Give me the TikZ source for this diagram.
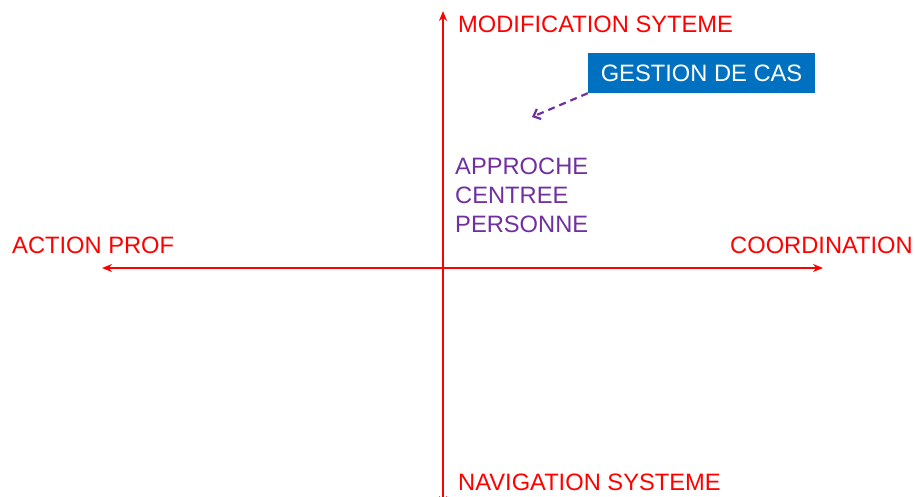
\documentclass[tikz,border=0pt]{standalone}
\usepackage{fontspec}
\setmainfont{Liberation Sans}
\usepackage{tikz}
\usetikzlibrary{arrows.meta,positioning}
\definecolor{axiscolor}{RGB}{255,0,0}
\definecolor{purplecol}{RGB}{112,48,160}
\definecolor{boxblue}{RGB}{0,112,192}
\tikzset{
  axisln/.style={{Stealth[length=10pt,width=8pt]}-{Stealth[length=10pt,width=8pt]}, line width=2pt, axiscolor},
  axislabel/.style={axiscolor, anchor=west, inner sep=0pt, font=\fontsize{23.7}{28}\selectfont},
  casebox/.style={fill=boxblue, text=white, minimum width=227pt, minimum height=40pt,
    inner sep=0pt, font=\fontsize{23.7}{28}\selectfont},
  hintln/.style={-{Straight Barb[length=6pt,width=11pt]}, dash pattern=on 7pt off 5pt,
    line width=2.2pt, purplecol},
}

\begin{document}
\begin{tikzpicture}[x=1pt,y=-1pt]
    \useasboundingbox (0,0) rectangle (915,497);
    % --- axes ---
    \coordinate (top) at (443,11);
    \coordinate (bottom) at (443,506);
    \coordinate (left) at (102,268);
    \coordinate (right) at (823,268);
    \draw[axisln] (bottom) -- (top);
    \draw[axisln] (left) -- (right);
    % --- axis labels ---
    \node[axislabel] (modif) at (458,24) {MODIFICATION SYTEME};
    \node[axislabel] (navig) at (458,482) {NAVIGATION SYSTEME};
    \node[axislabel] (action) at (12,245) {ACTION PROF};
    \node[axislabel] (coord) at (730,245) {COORDINATION};
    % --- quadrant content ---
    \node[axislabel, text=purplecol, align=left,
      font=\fontsize{23.7}{29}\selectfont] (approche) at (455,195)
      {APPROCHE\\CENTREE\\PERSONNE};
    \node[casebox] (gestion) at (701.5,73) {GESTION DE CAS};
    \coordinate (hint) at (532,117);
    \draw[hintln] (gestion.south west) -- (hint);
\end{tikzpicture}
\end{document}
